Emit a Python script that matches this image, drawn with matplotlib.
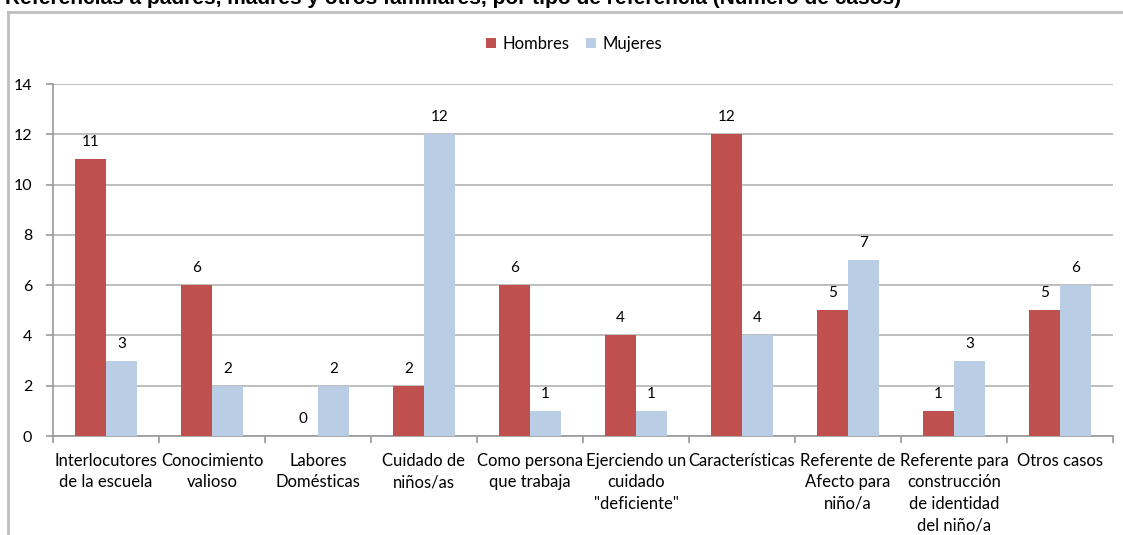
import matplotlib
matplotlib.use("Agg")
import matplotlib.pyplot as plt
import numpy as np
from matplotlib.lines import Line2D

categories = ["Interlocutores\nde la escuela", "Conocimiento\nvalioso", "Labores\nDomésticas",
              "Cuidado de\nniños/as", "Como persona\nque trabaja", "Ejerciendo un\ncuidado\n\"deficiente\"",
              "Características", "Referente de\nAfecto para\nniño/a", "Referente para\nconstrucción\nde identidad\ndel niño/a",
              "Otros casos"]
hombres = [11, 6, 0, 2, 6, 4, 12, 5, 1, 5]
mujeres = [3, 2, 2, 12, 1, 1, 4, 7, 3, 6]
yticks = [0, 2, 4, 6, 8, 10, 12, 14]
title = "Referencias a padres, madres y otros familiares, por tipo de referencia (Número de casos)"

plt.rcParams['font.family'] = ['Lato', 'DejaVu Sans']
W, H = 1123, 535
fig = plt.figure(figsize=(W/100, H/100), dpi=100)
fig.patch.set_facecolor('white')

# frame
gray = '#bfbfbf'
fig.add_artist(Line2D([8/W, 1.0], [1-12/H, 1-12/H], transform=fig.transFigure, color=gray, lw=2))
fig.add_artist(Line2D([8/W, 8/W], [1-12/H, 0], transform=fig.transFigure, color=gray, lw=2))

fig.text(5/W, 1-4/H, title, fontsize=15, fontweight='bold', va='baseline', ha='left',
         color='black', family=['Liberation Sans', 'DejaVu Sans'])

ax = fig.add_axes([53/W, 1-436/H, (1113-53)/W, (436-84)/H])
x = np.arange(len(categories))
w = 0.29
red = '#c0504d'
blue = '#b9cde5'
b1 = ax.bar(x - w/2, hombres, w, color=red, label='Hombres', zorder=3)
b2 = ax.bar(x + w/2, mujeres, w, color=blue, label='Mujeres', zorder=3)
for xi, v in zip(x - w/2, hombres):
    ax.text(xi, v + 0.4, str(v), ha='center', va='bottom', fontsize=11)
for xi, v in zip(x + w/2, mujeres):
    ax.text(xi, v + 0.4, str(v), ha='center', va='bottom', fontsize=11)

ax.set_xlim(-0.5, len(categories) - 0.5)
ax.set_ylim(0, 14)
ax.set_yticks(yticks)
ax.set_yticklabels([str(t) for t in yticks], fontsize=11.5)
ax.yaxis.grid(True, color='#b3b3b3', lw=1.2, zorder=0)
ax.set_xticks(x)
ax.set_xticklabels(categories, fontsize=12, linespacing=1.42, va='top')
ax.set_xticks(np.arange(-0.5, len(categories) + 0.5, 1), minor=True)
ax.tick_params(axis='x', which='major', length=0, pad=12)
ax.tick_params(axis='x', which='minor', length=5, color='#999999', width=1.2, direction='out')
ax.tick_params(axis='y', length=5, color='#999999', width=1.2, pad=10)
for s in ['top', 'right']:
    ax.spines[s].set_visible(False)
for s in ['left', 'bottom']:
    ax.spines[s].set_color('#999999')
    ax.spines[s].set_linewidth(1.2)

leg = fig.legend(handles=[b1, b2], labels=['Hombres', 'Mujeres'], loc='center',
                 bbox_to_anchor=(574/W, 1-44/H), ncol=2, frameon=False, fontsize=12,
                 handlelength=0.6, handleheight=0.6, handletextpad=0.4, columnspacing=1.0)

fig.savefig('out.png', dpi=100, facecolor='white')
